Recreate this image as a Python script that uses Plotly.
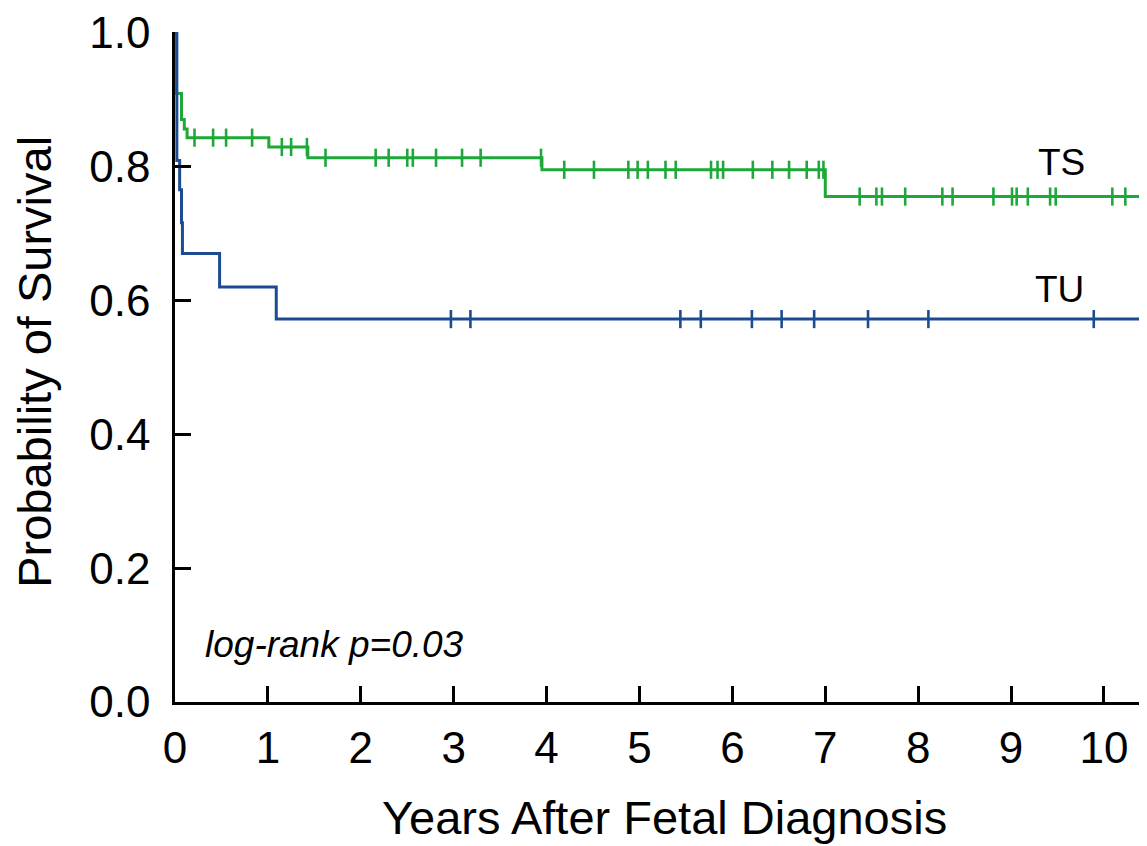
import numpy as np
import plotly.graph_objects as go

# ---- Data ----
# TS group: event step times and survival after each step
ts_times = [0.0, 0.01, 0.07, 0.10, 0.13, 1.01, 1.43, 3.95, 7.00]
ts_surv = [1.0, 0.909, 0.870, 0.856, 0.843, 0.829, 0.813, 0.795, 0.755]
ts_censor = [0.21, 0.41, 0.55, 0.83, 1.15, 1.25, 1.42, 1.62, 2.16, 2.30, 2.50, 2.56,
             2.81, 3.09, 3.29, 3.94, 4.19, 4.51, 4.88, 4.98, 5.09, 5.28, 5.39, 5.77,
             5.84, 5.90, 6.22, 6.43, 6.61, 6.80, 6.93, 6.98, 7.37, 7.55, 7.61, 7.86,
             8.26, 8.37, 8.81, 9.01, 9.06, 9.18, 9.42, 9.48, 10.09, 10.23]

# TU group
tu_times = [0.0, 0.02, 0.05, 0.07, 0.08, 0.48, 1.09]
tu_surv = [1.0, 0.809, 0.765, 0.716, 0.670, 0.620, 0.572]
tu_censor = [2.97, 3.18, 5.44, 5.66, 6.21, 6.53, 6.88, 7.46, 8.11, 9.89]

x_end = 10.42
x_ticks = list(range(0, 11))
y_ticks = [0.0, 0.2, 0.4, 0.6, 0.8, 1.0]

GREEN = "#1fa83a"
BLUE = "#1c4b92"
FONT = "Liberation Sans, Arial, sans-serif"


def step_value(times, surv, t):
    idx = np.searchsorted(np.array(times), t, side="right") - 1
    return [surv[i] for i in idx]


fig = go.Figure()

for times, surv, cens, color in [(ts_times, ts_surv, ts_censor, GREEN),
                                 (tu_times, tu_surv, tu_censor, BLUE)]:
    xs = list(times) + [x_end]
    ys = list(surv) + [surv[-1]]
    fig.add_trace(go.Scatter(x=xs, y=ys, mode="lines", line=dict(color=color, width=3, shape="hv"),
                             showlegend=False, hoverinfo="skip"))
    fig.add_trace(go.Scatter(x=cens, y=step_value(times, surv, cens), mode="markers",
                             marker=dict(symbol="line-ns", size=13, line=dict(color=color, width=2.6)),
                             showlegend=False, cliponaxis=False))

fig.add_annotation(x=9.54, y=0.806, text="TS", showarrow=False,
                   font=dict(family=FONT, size=37, color="black"), xanchor="center", yanchor="middle")
fig.add_annotation(x=9.52, y=0.6155, text="TU", showarrow=False,
                   font=dict(family=FONT, size=37, color="black"), xanchor="center", yanchor="middle")
fig.add_annotation(x=0.30, y=0.0864, text="<i>log-rank p=0.03</i>", showarrow=False,
                   font=dict(family=FONT, size=37, color="black"), xanchor="left", yanchor="middle")

# axis titles
fig.add_annotation(xref="paper", yref="paper", x=0.506, y=-0.172, text="Years After Fetal Diagnosis",
                   showarrow=False, font=dict(family=FONT, size=47, color="black"),
                   xanchor="center", yanchor="middle")
fig.add_annotation(xref="paper", yref="paper", x=-0.1455, y=0.508, text="Probability of Survival",
                   showarrow=False, textangle=-90, font=dict(family=FONT, size=47, color="black"),
                   xanchor="center", yanchor="middle")

# The page body has an 8px default margin, so the figure is sized/offset to compensate.
fig.update_layout(
    width=1139, height=838,
    margin=dict(l=167, r=4, t=24, b=144),
    paper_bgcolor="white", plot_bgcolor="white",
    font=dict(family=FONT, color="black"),
    xaxis=dict(range=[0, x_end], tickvals=x_ticks, ticktext=[str(v) for v in x_ticks],
               showline=True, linecolor="black", linewidth=2.5, ticks="inside", ticklen=16,
               tickwidth=2.5, tickcolor="black", showgrid=False, zeroline=False,
               tickfont=dict(family=FONT, size=44), ticklabelstandoff=5, automargin=False,
               ticklabeloverflow="allow"),
    yaxis=dict(range=[0, 1.0008], tickvals=y_ticks, ticktext=[f"{v:.1f}" for v in y_ticks],
               showline=True, linecolor="black", linewidth=2.5, ticks="inside", ticklen=16,
               tickwidth=2.5, tickcolor="black", showgrid=False, zeroline=False,
               tickfont=dict(family=FONT, size=44), ticklabelstandoff=13, automargin=False,
               ticklabeloverflow="allow"),
)

fig.write_html("out.html")
